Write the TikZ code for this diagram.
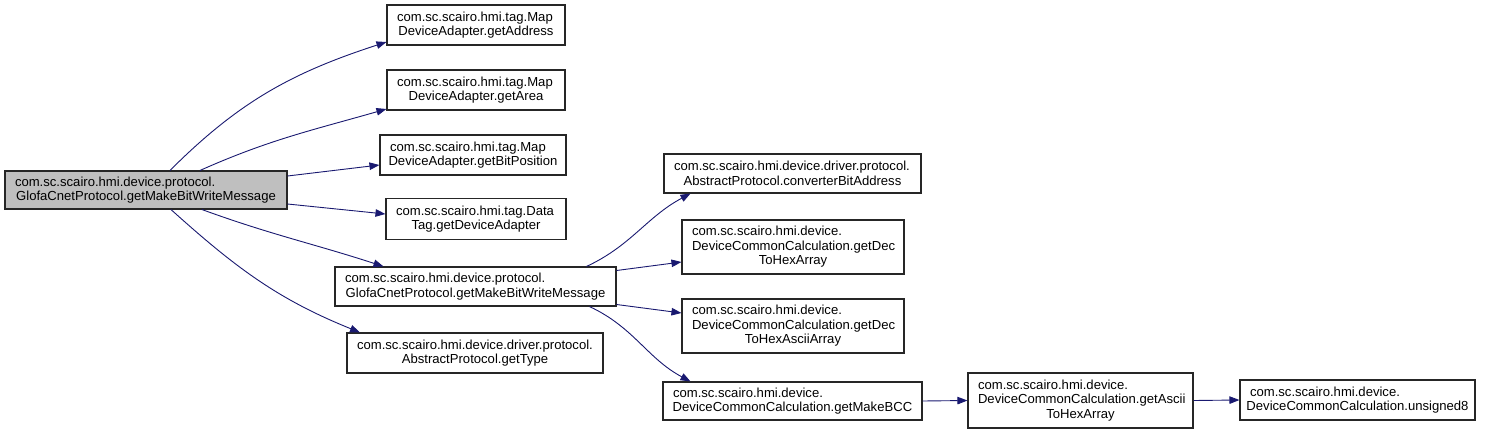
\documentclass[tikz,border=0pt]{standalone}
\usepackage{fontspec}
\setmainfont{Liberation Sans}
\usetikzlibrary{arrows.meta}
\definecolor{edgeblue}{RGB}{25,25,112}
\definecolor{rootgray}{RGB}{191,191,191}
\newcommand{\lastln}[1]{\makebox[\hsize][c]{#1}}
\tikzset{
  box/.style={draw=black!85, line width=1.1pt, fill=white, align=left,
    inner xsep=10pt, inner ysep=0pt,
    font=\fontsize{13.1}{14.6}\selectfont},
  rootbox/.style={box, fill=rootgray},
  edge/.style={draw=edgeblue, line width=0.9pt, -{Triangle[length=10pt,width=7.5pt]}}
}
\begin{document}
\begin{tikzpicture}[x=1pt,y=-1pt]
\useasboundingbox (0,0) rectangle (1488,434);
% nodes
\node[rootbox, text width=262pt, minimum height=38pt] (root) at (146,190)
  {com.sc.scairo.hmi.device.protocol.\\\lastln{GlofaCnetProtocol.getMakeBitWriteMessage}};
\node[box, text width=158pt, minimum height=40pt] (n1) at (476,25)
  {com.sc.scairo.hmi.tag.Map\\\lastln{DeviceAdapter.getAddress}};
\node[box, text width=158pt, minimum height=40pt] (n2) at (476,90)
  {com.sc.scairo.hmi.tag.Map\\\lastln{DeviceAdapter.getArea}};
\node[box, text width=166pt, minimum height=40pt] (n3) at (473,155)
  {com.sc.scairo.hmi.tag.Map\\\lastln{DeviceAdapter.getBitPosition}};
\node[box, text width=160pt, minimum height=41pt] (n4) at (476,219)
  {com.sc.scairo.hmi.tag.Data\\\lastln{Tag.getDeviceAdapter}};
\node[box, text width=261pt, minimum height=39pt] (m) at (475.5,286.5)
  {com.sc.scairo.hmi.device.protocol.\\\lastln{GlofaCnetProtocol.getMakeBitWriteMessage}};
\node[box, text width=236pt, minimum height=40pt] (gt) at (475,353)
  {com.sc.scairo.hmi.device.driver.protocol.\\\lastln{AbstractProtocol.getType}};
\node[box, text width=237pt, minimum height=39pt] (c1) at (792.5,173.5)
  {com.sc.scairo.hmi.device.driver.protocol.\\\lastln{AbstractProtocol.converterBitAddress}};
\node[box, text width=202pt, minimum height=54pt] (c2) at (793,247)
  {com.sc.scairo.hmi.device.\\DeviceCommonCalculation.getDec\\\lastln{ToHexArray}};
\node[box, text width=202pt, minimum height=54pt] (c3) at (793,326)
  {com.sc.scairo.hmi.device.\\DeviceCommonCalculation.getDec\\\lastln{ToHexAsciiArray}};
\node[box, text width=239pt, minimum height=38pt] (c4) at (792.5,401)
  {com.sc.scairo.hmi.device.\\\lastln{DeviceCommonCalculation.getMakeBCC}};
\node[box, text width=205pt, minimum height=55pt] (c5) at (1080.5,400.5)
  {com.sc.scairo.hmi.device.\\DeviceCommonCalculation.getAscii\\\lastln{ToHexArray}};
\node[box, text width=215pt, minimum height=40pt] (c6) at (1357.5,400)
  {com.sc.scairo.hmi.device.\\\lastln{DeviceCommonCalculation.unsigned8}};
% edges
\draw[edge] ([xshift=24pt]root.north) to[out=45,in=198] ([yshift=-17pt]n1.west);
\draw[edge] ([xshift=54pt]root.north) to[out=24,in=196] ([yshift=-19pt]n2.west);
\draw[edge] ([yshift=14pt]root.east) -- ([yshift=-10pt]n3.west);
\draw[edge] ([yshift=-14pt]root.east) -- ([yshift=5pt]n4.west);
\draw[edge] ([xshift=56pt]root.south) to[out=-20,in=162] ([xshift=-92pt]m.north);
\draw[edge] ([xshift=25pt]root.south) to[out=-42,in=158] ([xshift=-115pt]gt.north);
\draw[edge] ([xshift=111pt]m.north) to[out=25,in=208] ([xshift=-102pt]c1.south);
\draw[edge] ([yshift=16pt]m.east) -- ([yshift=-15pt]c2.west);
\draw[edge] ([yshift=-18pt]m.east) -- ([yshift=13pt]c3.west);
\draw[edge] ([xshift=114pt]m.south) to[out=-25,in=152] ([xshift=-102pt]c4.north);
\draw[edge] (c4.east) -- (c5.west);
\draw[edge] (c5.east) -- (c6.west);
\end{tikzpicture}
\end{document}
